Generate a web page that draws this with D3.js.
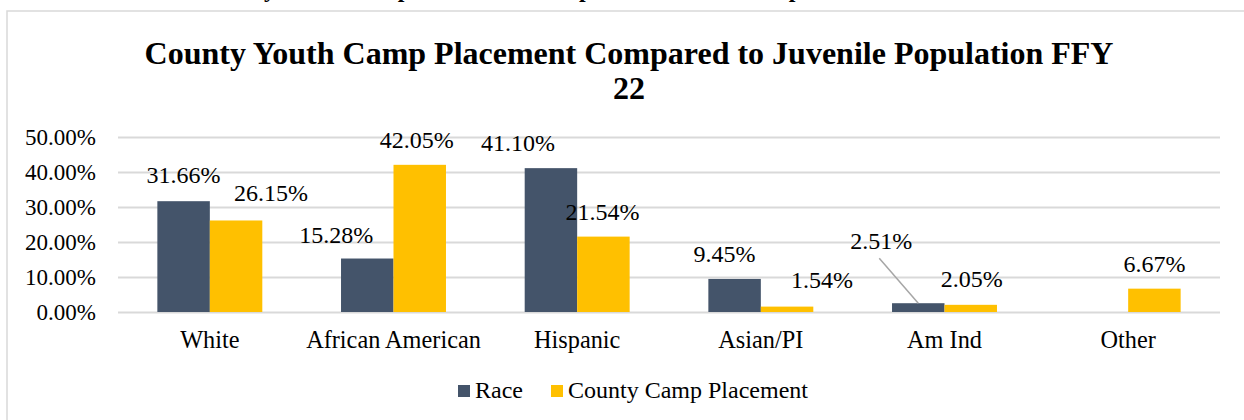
<!DOCTYPE html>
<html>
<head>
<meta charset="utf-8">
<script src="https://cdn.jsdelivr.net/npm/d3@7"></script>
<style>
  body { margin: 0; background: #fff; }
  svg { display: block; font-family: "Liberation Serif", "Times New Roman", serif; }
</style>
</head>
<body>
<svg></svg>
<script>

var categories = ["White", "African American", "Hispanic", "Asian/PI", "Am Ind", "Other"];
var raceValues = [0.3166, 0.1528, 0.4110, 0.0945, 0.0251, null];
var campValues = [0.2615, 0.4205, 0.2154, 0.0154, 0.0205, 0.0667];
var seriesNames = ["Race", "County Camp Placement"];
var tickValues = [0, 0.1, 0.2, 0.3, 0.4, 0.5];

// hand-moved data labels in the original report (dx, dy from bar top centre)
var raceNudge = [[0, -18], [-31, -16], [-33, -17], [-10, -17], [-37, -54], [0, 0]];
var campNudge = [[35, -19], [-3, -17], [-1, -17], [35, -19], [1, -18], [0, -17]];

var colors = ["#44546A", "#FFC000"];

var svgWidth = 1244;
var svgHeight = 420;
var plotLeft = 118, plotRight = 1220, plotTop = 137, plotBottom = 312;

var svg = d3.select("svg")
    .attr("width", svgWidth)
    .attr("height", svgHeight);

// cut-off heading of the page above the chart
svg.append("text")
    .attr("x", 200)
    .attr("y", -3)
    .attr("font-size", 24)
    .attr("font-weight", "bold")
    .text("County Youth Camp Placement Compared to Juvenile Population");

// chart frame
svg.append("rect")
    .attr("x", 7)
    .attr("y", 11)
    .attr("width", 1400)
    .attr("height", 600)
    .attr("fill", "#fff")
    .attr("stroke", "#d9d9d9")
    .attr("stroke-width", 1.5);

// title
var title = svg.append("text")
    .attr("text-anchor", "middle")
    .attr("font-size", 32)
    .attr("font-weight", "bold");
title.append("tspan").attr("x", 629).attr("y", 64)
    .text("County Youth Camp Placement Compared to Juvenile Population FFY");
title.append("tspan").attr("x", 629).attr("y", 99).text("22");

var x = d3.scaleBand()
    .domain(categories)
    .range([plotLeft, plotRight]);

var barW = x.bandwidth() / 3.5;

var xSub = d3.scaleBand()
    .domain(seriesNames)
    .range([x.bandwidth() / 2 - barW, x.bandwidth() / 2 + barW]);

var y = d3.scaleLinear()
    .domain([0, 0.5])
    .range([plotBottom, plotTop]);

var fmt = d3.format(".2%");

// gridlines + y labels
var yAxis = svg.append("g")
    .attr("transform", "translate(" + plotLeft + ",0)")
    .call(d3.axisLeft(y)
        .tickValues(tickValues)
        .tickSize(-(plotRight - plotLeft))
        .tickPadding(22)
        .tickFormat(fmt));
yAxis.select(".domain").remove();
yAxis.selectAll("line")
    .attr("stroke", "#d9d9d9")
    .attr("stroke-width", 2);
yAxis.selectAll("text")
    .attr("font-size", 23)
    .attr("font-family", "Liberation Serif, serif")
    .attr("fill", "#000")
    .attr("dy", "0.32em");

// category labels
var xAxis = svg.append("g")
    .attr("transform", "translate(0," + plotBottom + ")")
    .call(d3.axisBottom(x).tickSize(0));
xAxis.select(".domain").remove();
xAxis.selectAll("text")
    .attr("y", 36)
    .attr("dy", 0)
    .attr("font-size", 24.3)
    .attr("font-family", "Liberation Serif, serif")
    .attr("fill", "#000");

var rows = categories.map(function(c, i) {
    return { cat: c, i: i, vals: [raceValues[i], campValues[i]] };
});

var groups = svg.selectAll("g.cat")
    .data(rows)
    .enter()
    .append("g")
    .attr("class", "cat")
    .attr("transform", function(d) { return "translate(" + x(d.cat) + ",0)"; });

var bars = groups.selectAll("g.bar")
    .data(function(d) {
        return d.vals.map(function(v, s) {
            return { v: v, s: s, i: d.i };
        }).filter(function(e) { return e.v != null; });
    })
    .enter()
    .append("g")
    .attr("class", "bar");

bars.append("rect")
    .attr("x", function(d) { return xSub(seriesNames[d.s]); })
    .attr("width", xSub.bandwidth())
    .attr("y", function(d) { return y(d.v); })
    .attr("height", function(d) { return plotBottom - y(d.v); })
    .attr("fill", function(d) { return colors[d.s]; });

function nudge(d) {
    return d.s == 0 ? raceNudge[d.i] : campNudge[d.i];
}

// leader line for the label that was dragged away
bars.filter(function(d) { return nudge(d)[1] < -40; })
    .append("line")
    .attr("x1", function(d) { return xSub(seriesNames[d.s]) + xSub.bandwidth() / 2 + nudge(d)[0] - 2; })
    .attr("y1", function(d) { return y(d.v) + nudge(d)[1] + 9; })
    .attr("x2", function(d) { return xSub(seriesNames[d.s]) + xSub.bandwidth() / 2; })
    .attr("y2", function(d) { return y(d.v); })
    .attr("stroke", "#a6a6a6")
    .attr("stroke-width", 1.5);

bars.append("text")
    .attr("text-anchor", "middle")
    .attr("font-size", 24)
    .attr("x", function(d) { return xSub(seriesNames[d.s]) + xSub.bandwidth() / 2 + nudge(d)[0]; })
    .attr("y", function(d) { return y(d.v) + nudge(d)[1]; })
    .text(function(d) { return fmt(d.v); });

// legend
var legendX = [458, 551];
var legend = svg.selectAll("g.legend")
    .data(seriesNames)
    .enter()
    .append("g")
    .attr("class", "legend")
    .attr("transform", function(d, i) { return "translate(" + legendX[i] + ",385)"; });
legend.append("rect")
    .attr("width", 12)
    .attr("height", 12)
    .attr("fill", function(d, i) { return colors[i]; });
legend.append("text")
    .attr("x", 17)
    .attr("y", 13)
    .attr("font-size", 24)
    .text(function(d) { return d; });

</script>
</body>
</html>
